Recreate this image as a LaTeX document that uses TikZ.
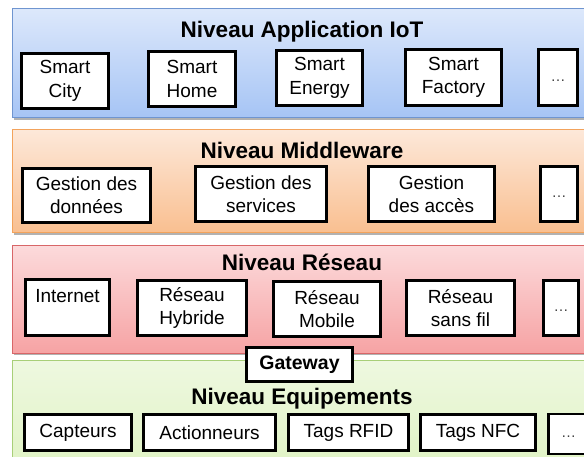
\documentclass[tikz,border=0pt]{standalone}
\usepackage{fontspec}
\setmainfont{Liberation Sans}
\definecolor{appTop}{HTML}{DCE8FB}
\definecolor{appBot}{HTML}{A6C4F5}
\definecolor{appLine}{HTML}{6F95D0}
\definecolor{midTop}{HTML}{FDE8D9}
\definecolor{midBot}{HTML}{F9BF90}
\definecolor{midLine}{HTML}{F3A35C}
\definecolor{netTop}{HTML}{FCDADB}
\definecolor{netBot}{HTML}{F6A3A4}
\definecolor{netLine}{HTML}{D86668}
\definecolor{devTop}{HTML}{EEF8E0}
\definecolor{devBot}{HTML}{E0F3C4}
\definecolor{devLine}{HTML}{A8CF78}

\begin{document}
\begin{tikzpicture}[x=1pt,y=-1pt,
  item/.style={draw,line width=2.6pt,fill=white,align=center,inner sep=0pt,font=\fontsize{19}{23.4}\selectfont},
  more/.style={item,text=black!75,font=\fontsize{15}{18}\selectfont},
  level/.style={anchor=base,font=\fontsize{22.5}{26}\selectfont\bfseries},
  band/.style={line width=1pt},
  shadow/.style={fill=black!30}]
\clip (0,0) rectangle (584,457);

% Application level
\fill[shadow] (14,11) rectangle (594,120);
\shade[band,top color=appTop,bottom color=appBot,draw=appLine] (12,9) rectangle (592,118);
\node[level] (appTitle) at (302,37.5) {Niveau Application IoT};
\node[item,minimum width=87pt,minimum height=55pt] (city) at (65,81) {Smart\\City};
\node[item,minimum width=87pt,minimum height=55pt] (home) at (192,79) {Smart\\Home};
\node[item,minimum width=86pt,minimum height=55pt] (energy) at (319.5,78) {Smart\\Energy};
\node[item,minimum width=96pt,minimum height=56pt] (factory) at (453.5,77.5) {Smart\\Factory};
\node[more,minimum width=39pt,minimum height=56pt] (appMore) at (558,77.5) {\vphantom{Sg}\dots};

% Middleware level
\fill[shadow] (14,132) rectangle (594,235);
\shade[band,top color=midTop,bottom color=midBot,draw=midLine] (12,130) rectangle (592,233);
\node[level] (midTitle) at (302,158.3) {Niveau Middleware};
\node[item,minimum width=128pt,minimum height=54pt] (data) at (86.5,195.5) {Gestion des\\données};
\node[item,minimum width=131pt,minimum height=55pt] (services) at (261,194) {Gestion des\\services};
\node[item,minimum width=126pt,minimum height=55pt] (access) at (431.5,194) {Gestion\\des accès};
\node[more,minimum width=37pt,minimum height=55pt] (midMore) at (559,194) {\vphantom{Sg}\dots};

% Network level
\fill[shadow] (14,248) rectangle (594,355);
\shade[band,top color=netTop,bottom color=netBot,draw=netLine] (12,246) rectangle (592,353);
\node[level] (netTitle) at (302,270.7) {Niveau Réseau};
\node[item,minimum width=84pt,minimum height=56pt] (internet) at (67.5,307.5) {Internet\\\mbox{}};
\node[item,minimum width=109pt,minimum height=55pt] (hybrid) at (192,308) {Réseau\\Hybride};
\node[item,minimum width=107pt,minimum height=55pt] (mobile) at (327,309) {Réseau\\Mobile};
\node[item,minimum width=108pt,minimum height=55pt] (wireless) at (460.5,308) {Réseau\\sans fil};
\node[more,minimum width=35pt,minimum height=55pt] (netMore) at (561,308) {\vphantom{Sg}\dots};

% Device level
\fill[shadow] (14,362) rectangle (594,472);
\shade[band,top color=devTop,bottom color=devBot,draw=devLine] (12,360) rectangle (592,470);
\node[level] (devTitle) at (302,404) {Niveau Equipements};
\node[item,minimum width=107pt,minimum height=36pt] (sensors) at (78,432.5) {Capteurs};
\node[item,minimum width=132pt,minimum height=36pt] (actuators) at (209.5,432.5) {Actionneurs};
\node[item,minimum width=120pt,minimum height=36pt] (rfid) at (348.5,432.5) {Tags RFID};
\node[item,minimum width=115pt,minimum height=36pt] (nfc) at (478,432.5) {Tags NFC};
\node[more,minimum width=40pt,minimum height=40pt] (devMore) at (568.5,434) {\vphantom{Sg}\dots};

% Gateway between network and devices
\node[item,minimum width=106pt,minimum height=34pt,font=\fontsize{19.5}{23}\selectfont\bfseries] (gateway) at (299.5,364.5) {Gateway};
\end{tikzpicture}
\end{document}
